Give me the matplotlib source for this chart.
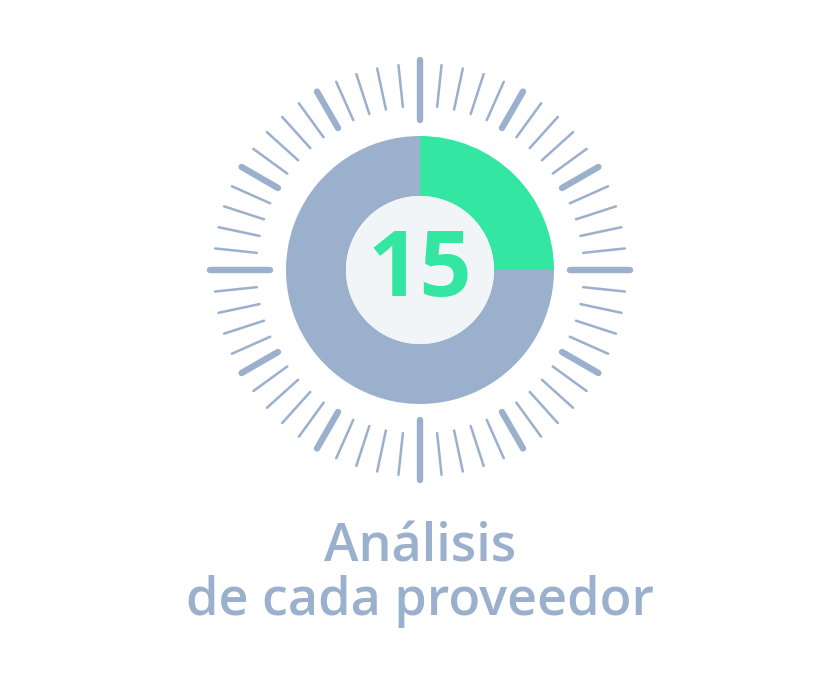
#!/usr/bin/env python
# -*- coding: utf-8 -*-

import numpy as np
import matplotlib
matplotlib.use("Agg")
import matplotlib.pyplot as plt
from matplotlib.patches import Wedge, Circle

plt.rcParams['font.family'] = ['Open Sans', 'DejaVu Sans']

# data
value = 15
total = 60
label_lines = ["Análisis", "de cada proveedor"]

GREEN = "#33E6A1"
BLUE = "#9BB0CD"
INNER = "#F2F5F8"

fig = plt.figure(figsize=(8.4, 6.93), dpi=100)
ax = fig.add_axes([0, 0, 1, 1])
ax.set_xlim(0, 840)
ax.set_ylim(693, 0)
ax.set_aspect("equal")
ax.axis("off")

cx, cy = 420, 270
r_out, r_in = 134, 74

# donut: angles measured clockwise from 12 o'clock (y axis is flipped)
frac = value / total
ax.add_patch(Wedge((cx, cy), r_out, -90, -90 + 360 * frac, width=r_out - r_in,
                   facecolor=GREEN, edgecolor="none"))
ax.add_patch(Wedge((cx, cy), r_out, -90 + 360 * frac, 270, width=r_out - r_in,
                   facecolor=BLUE, edgecolor="none"))
ax.add_patch(Circle((cx, cy), r_in, facecolor=INNER, edgecolor="none"))

ax.text(cx, cy + 2, str(value), ha="center", va="center", fontsize=66,
        fontweight="bold", color=GREEN)

# clock ticks
for i in range(total):
    ang = np.deg2rad(i * 360 / total - 90)
    if i % 15 == 0:
        r0, r1, lw = 150, 210, 4.6
    elif i % 5 == 0:
        r0, r1, lw = 164, 206, 4.6
    else:
        r0, r1, lw = 164, 206, 1.8
    ax.plot([cx + r0 * np.cos(ang), cx + r1 * np.cos(ang)],
            [cy + r0 * np.sin(ang), cy + r1 * np.sin(ang)],
            color=BLUE, linewidth=lw, solid_capstyle="round")

ax.text(420, 548, label_lines[0], ha="center", va="center", fontsize=37.5,
        fontweight="semibold", color=BLUE)
ax.text(420, 601, label_lines[1], ha="center", va="center", fontsize=37.5,
        fontweight="semibold", color=BLUE)

fig.savefig("out.png", dpi=100, facecolor="white")
